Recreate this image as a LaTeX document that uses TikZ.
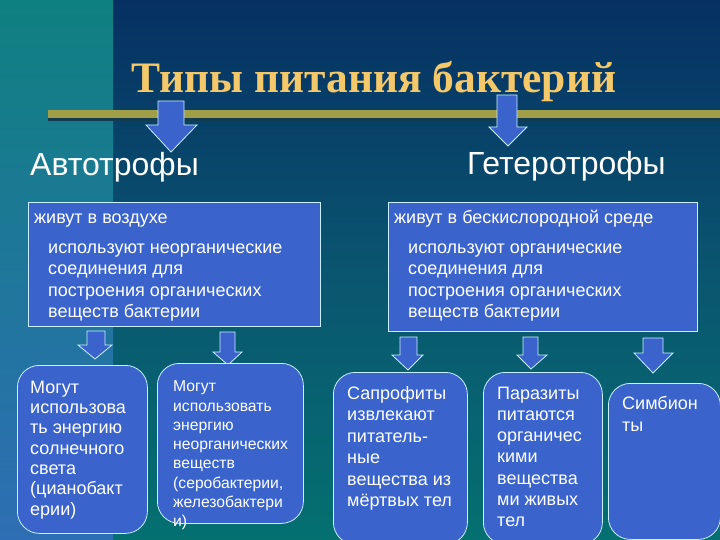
\documentclass[tikz,border=0pt]{standalone}
\usepackage{fontspec}
\setmainfont{Liberation Sans}
\newfontfamily\titlefont{Liberation Serif}
\definecolor{bgtop}{RGB}{6,48,98}
\definecolor{bgmid}{RGB}{10,85,112}
\definecolor{bgbot}{RGB}{4,112,112}
\definecolor{striptop}{RGB}{15,128,128}
\definecolor{stripbot}{RGB}{46,110,180}
\definecolor{boxblue}{RGB}{58,100,204}
\definecolor{edge}{RGB}{200,240,255}
\definecolor{gold}{RGB}{245,200,105}
\definecolor{olive}{RGB}{160,158,70}
\definecolor{darkline}{RGB}{20,60,80}
\newcommand\mlines[2]{\vtop{\baselineskip=#1\relax #2}}
\tikzset{
  boxst/.style={draw=edge, line width=0.8pt, fill=boxblue, inner sep=0pt, anchor=north west},
  rbox/.style={boxst, rounded corners=22pt},
  blockarr/.style={draw=edge, line width=0.8pt, fill=boxblue, line join=miter},
  txt/.style={text=white, inner sep=0pt, anchor=base west},
}
\begin{document}
\begin{tikzpicture}[x=1pt,y=-1pt]
\useasboundingbox (0,0) rectangle (720,540);
% background
\shade[top color=bgtop, bottom color=bgbot, middle color=bgmid] (113,0) rectangle (720,540);
\shade[top color=striptop, bottom color=stripbot] (0,0) rectangle (113,540);
% title rule
\fill[olive] (48,110) rectangle (720,118);
\fill[darkline] (48,118) rectangle (720,121);
% title
\node[text=gold, inner sep=0pt, anchor=base, font=\titlefont\bfseries\fontsize{43.5}{50}\selectfont] (title) at (374,93) {Типы питания бактерий};
% big arrows
\draw[blockarr] (158,101) -- (184,101) -- (184,125) -- (197,125) -- (171,152) -- (146,125) -- (158,125) -- cycle;
\draw[blockarr] (497,95) -- (517,95) -- (517,127) -- (527,127) -- (508,146) -- (489,127) -- (497,127) -- cycle;
% headings
\node[txt, font=\fontsize{32}{38}\selectfont] (auto) at (30,176) {Автотрофы};
\node[txt, font=\fontsize{32}{38}\selectfont] (hetero) at (467,175) {Гетеротрофы};
% upper boxes
\node[boxst, minimum width=292pt, minimum height=124pt] (b1) at (28,202) {};
\node[boxst, minimum width=309pt, minimum height=129pt] (b2) at (388,202) {};
\node[txt, font=\fontsize{18}{21}\selectfont] (b1a) at (34,223.3) {живут в воздухе};
\node[txt, font=\fontsize{18}{21}\selectfont] (b1b) at (48,253.3) {\mlines{21.5pt}{\hbox{используют неорганические}\hbox{соединения для}\hbox{построения органических}\hbox{веществ бактерии}}};
\node[txt, font=\fontsize{18}{21}\selectfont] (b2a) at (394,223.3) {живут в бескислородной среде};
\node[txt, font=\fontsize{18}{21}\selectfont] (b2b) at (408,253.3) {\mlines{21.5pt}{\hbox{используют органические}\hbox{соединения для}\hbox{построения органических}\hbox{веществ бактерии}}};
% small arrows
\draw[blockarr] (87,331) -- (105,331) -- (105,345) -- (112,345) -- (95,359) -- (78,345) -- (87,345) -- cycle;
\draw[blockarr] (220,332) -- (235,332) -- (235,352) -- (242,352) -- (228,365) -- (213,352) -- (220,352) -- cycle;
\draw[blockarr] (400,337) -- (417,337) -- (417,355) -- (423,355) -- (408,370) -- (392,355) -- (400,355) -- cycle;
\draw[blockarr] (523,337) -- (538,337) -- (538,355) -- (547,355) -- (531,369) -- (517,355) -- (523,355) -- cycle;
\draw[blockarr] (643,338) -- (663,338) -- (663,353) -- (673,353) -- (653,373) -- (634,353) -- (643,353) -- cycle;
% lower boxes
\node[rbox, minimum width=130pt, minimum height=168pt] (l1) at (17,365) {};
\node[rbox, minimum width=146pt, minimum height=160pt] (l2) at (157,363) {};
\node[rbox, minimum width=134pt, minimum height=172pt] (r1) at (333,372) {};
\node[rbox, minimum width=119pt, minimum height=172pt] (r2) at (483,372) {};
\node[rbox, minimum width=112pt, minimum height=156pt] (r3) at (608,383) {};
\node[txt, font=\fontsize{18}{21}\selectfont] (l1t) at (30,393.3) {\mlines{20.3pt}{\hbox{Могут}\hbox{использова}\hbox{ть энергию}\hbox{солнечного}\hbox{света}\hbox{(цианобакт}\hbox{ерии)}}};
\node[txt, font=\fontsize{15.7}{18}\selectfont] (l2t) at (173,391.7) {\mlines{19.3pt}{\hbox{Могут}\hbox{использовать}\hbox{энергию}\hbox{неорганических}\hbox{веществ}\hbox{(серобактерии,}\hbox{железобактери}\hbox{и)}}};
\node[txt, font=\fontsize{18}{21}\selectfont] (r1t) at (347,399) {\mlines{21.5pt}{\hbox{Сапрофиты}\hbox{извлекают}\hbox{питатель-}\hbox{ные}\hbox{вещества из}\hbox{мёртвых тел}}};
\node[txt, font=\fontsize{18}{21}\selectfont] (r2t) at (497,399) {\mlines{21.3pt}{\hbox{Паразиты}\hbox{питаются}\hbox{органичес}\hbox{кими}\hbox{вещества}\hbox{ми живых}\hbox{тел}}};
\node[txt, font=\fontsize{18}{21}\selectfont] (r3t) at (622,409.3) {\mlines{22.3pt}{\hbox{Симбион}\hbox{ты}}};
\end{tikzpicture}
\end{document}
